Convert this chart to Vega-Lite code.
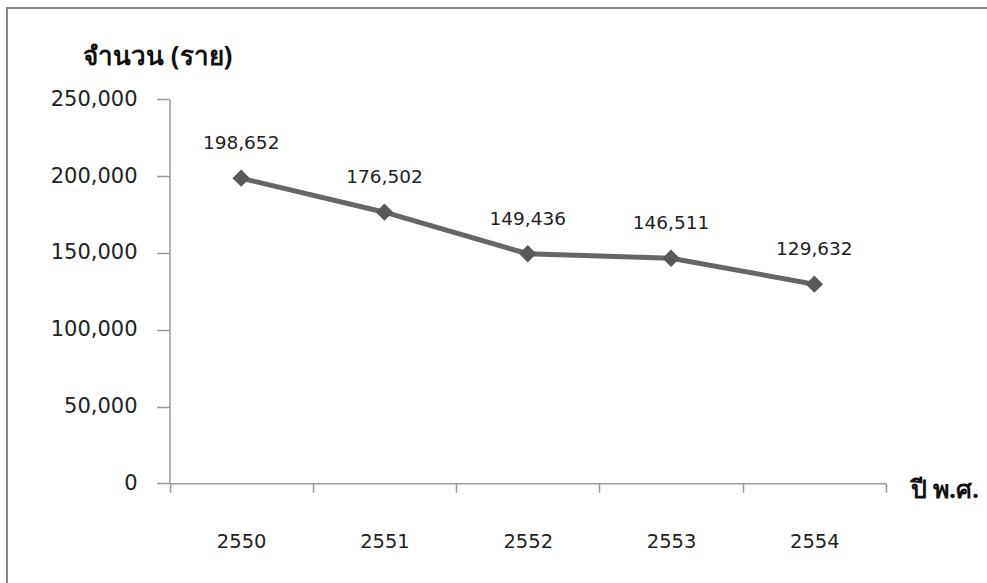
{
  "$schema": "https://vega.github.io/schema/vega-lite/v6.json",
  "width": 986,
  "height": 581,
  "autosize": {"type": "none"},
  "padding": {"left": 7, "top": 8, "right": -6, "bottom": -6},
  "background": "white",
  "config": {
    "view": {"stroke": "#8c8c8c", "strokeWidth": 2},
    "font": "DejaVu Sans"
  },
  "data": {
    "values": [
      {"year": "2550", "count": 198652},
      {"year": "2551", "count": 176502},
      {"year": "2552", "count": 149436},
      {"year": "2553", "count": 146511},
      {"year": "2554", "count": 129632}
    ]
  },
  "encoding": {
    "x": {
      "field": "year",
      "type": "nominal",
      "bandPosition": 0.5,
      "scale": {"type": "band", "range": [162.5, 879], "paddingInner": 0, "paddingOuter": 0},
      "axis": {
        "orient": "bottom",
        "offset": -105.7,
        "labelAngle": 0,
        "tickBand": "extent",
        "domainColor": "#9a9a9a",
        "domainWidth": 1.5,
        "tickColor": "#9a9a9a",
        "tickWidth": 1.5,
        "tickSize": 9,
        "labelPadding": 49,
        "labelBaseline": "middle",
        "labelFont": "DejaVu Sans",
        "labelFontSize": 19.5,
        "labelColor": "#222222",
        "title": "ปี พ.ศ.",
        "titleFont": "Noto Sans",
        "titleFontSize": 25,
        "titleFontWeight": "bold",
        "titleColor": "#111111",
        "titleAngle": 0,
        "titleAlign": "left",
        "titleBaseline": "middle",
        "titleX": 903,
        "titleY": 6,
        "grid": false
      }
    },
    "y": {
      "field": "count",
      "type": "quantitative",
      "scale": {"domain": [0, 250000], "range": [475.3, 91.3], "nice": false, "zero": true},
      "axis": {
        "orient": "left",
        "offset": -162.5,
        "values": [0, 50000, 100000, 150000, 200000, 250000],
        "format": ",d",
        "domainColor": "#9a9a9a",
        "domainWidth": 1.5,
        "tickColor": "#9a9a9a",
        "tickWidth": 1.5,
        "tickSize": 13,
        "labelPadding": 19.5,
        "labelFont": "DejaVu Sans",
        "labelFontSize": 21,
        "labelColor": "#222222",
        "title": "จำนวน (ราย)",
        "titleFont": "Noto Sans",
        "titleFontSize": 26,
        "titleFontWeight": "bold",
        "titleColor": "#111111",
        "titleAngle": 0,
        "titleAlign": "left",
        "titleBaseline": "middle",
        "titleX": -87,
        "titleY": 48,
        "grid": false
      }
    }
  },
  "layer": [
    {
      "mark": {"type": "line", "color": "#666666", "strokeWidth": 5}
    },
    {
      "mark": {"type": "point", "shape": "diamond", "filled": true, "size": 300, "color": "#595959", "opacity": 1}
    },
    {
      "mark": {"type": "text", "dy": -35, "fontSize": 18.5, "font": "DejaVu Sans", "color": "#222222"},
      "encoding": {
        "text": {"field": "count", "type": "quantitative", "format": ",d"}
      }
    }
  ]
}
